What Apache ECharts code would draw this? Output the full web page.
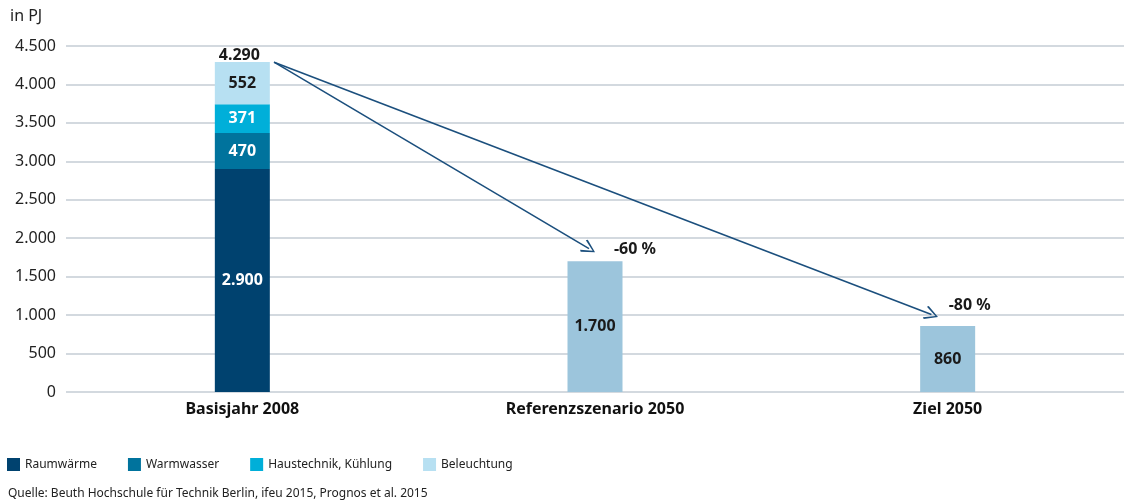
<!DOCTYPE html>
<html>
<head>
<meta charset="utf-8">
<script src="https://cdn.jsdelivr.net/npm/echarts@6/dist/echarts.min.js"></script>
<style>
html, body { margin: 0; padding: 0; background: #fff; }
#chart { width: 1124px; height: 502px; }
</style>
</head>
<body>
<div id="chart"></div>
<script>
// Endenergieverbrauch Gebäude, in PJ
var categories = ['Basisjahr 2008', 'Referenzszenario 2050', 'Ziel 2050'];
var raumwaerme = [2900, '-', '-'];
var warmwasser = [470, '-', '-'];
var haustechnik = [371, '-', '-'];
var beleuchtung = [552, '-', '-'];
var szenarien = ['-', 1700, 860];
var summen = [4290, 1700, 860];
var summenText = ['4.290', '-60 %', '-80 %'];
// Pfeile: Start (Kategorie-Position, Wert) -> Ende
var pfeile = [
    [[0.09, 4290], [0.983, 1865]],
    [[0.09, 4290], [1.954, 1008]]
];

function fmt(v) {
    return String(v).replace(/\B(?=(\d{3})+(?!\d))/g, '.');
}

var chart = echarts.init(document.getElementById('chart'));
var font = 'Noto Sans';

function barLabel(color) {
    return {
        show: true,
        position: 'inside',
        color: color,
        fontFamily: font,
        fontWeight: 'bold',
        fontSize: 16,
        formatter: function (p) { return fmt(p.value); }
    };
}

var option = {
    animation: false,
    textStyle: { fontFamily: font },
    title: [
        {
            text: 'in PJ',
            left: 5, top: 3,
            textStyle: { fontFamily: font, fontSize: 16, fontWeight: 'normal', color: '#222' }
        },
        {
            text: 'Quelle: Beuth Hochschule für Technik Berlin, ifeu 2015, Prognos et al. 2015',
            left: 3, top: 483,
            textStyle: { fontFamily: font, fontSize: 12, fontWeight: 'normal', color: '#222' }
        }
    ],
    legend: {
        data: ['Raumwärme', 'Warmwasser', 'Haustechnik, Kühlung', 'Beleuchtung'],
        left: 2, top: 453,
        icon: 'rect',
        itemWidth: 13, itemHeight: 13,
        itemGap: 31,
        textStyle: { fontFamily: font, fontSize: 12, color: '#222' }
    },
    grid: { left: 66, right: 0, top: 46, bottom: 110 },
    xAxis: [
        {
            type: 'category',
            data: categories,
            axisLine: { show: false },
            axisTick: { show: false },
            axisLabel: { color: '#111', fontWeight: 'bold', fontSize: 16, margin: 9, fontFamily: font }
        },
        {
            type: 'value',
            min: -0.5, max: 2.5,
            show: false
        }
    ],
    yAxis: {
        type: 'value',
        min: 0, max: 4500, interval: 500,
        axisLine: { show: false },
        axisTick: { show: false },
        splitLine: { lineStyle: { color: '#c5ccd4', width: 1.5 } },
        axisLabel: {
            color: '#222', fontSize: 16, margin: 10, fontFamily: font,
            formatter: function (v) { return fmt(v); }
        }
    },
    series: [
        { name: 'Raumwärme', type: 'bar', stack: 'a', barWidth: 55, data: raumwaerme,
          itemStyle: { color: '#00426f' }, label: barLabel('#fff') },
        { name: 'Warmwasser', type: 'bar', stack: 'a', data: warmwasser,
          itemStyle: { color: '#00739d' }, label: barLabel('#fff') },
        { name: 'Haustechnik, Kühlung', type: 'bar', stack: 'a', data: haustechnik,
          itemStyle: { color: '#00afd9' }, label: barLabel('#fff') },
        { name: 'Beleuchtung', type: 'bar', stack: 'a', data: beleuchtung,
          itemStyle: { color: '#b7e0f2' }, label: barLabel('#1a1a1a') },
        { name: 'Szenario', type: 'bar', stack: 'a', data: szenarien,
          itemStyle: { color: '#9cc5dc' }, label: barLabel('#1a1a1a') },
        {
            name: 'Summe', type: 'scatter', symbolSize: 0, silent: true,
            itemStyle: { opacity: 1, color: 'rgba(0,0,0,0)' },
            data: summen.map(function (v, i) {
                var off = [[-3, 6], [40, 1], [22, -7]][i];
                return {
                    value: v,
                    label: {
                        show: true,
                        position: 'top',
                        offset: off,
                        formatter: summenText[i],
                        color: '#1a1a1a', fontWeight: 'bold', fontSize: 16, fontFamily: font
                    }
                };
            })
        },
        {
            name: 'Pfeile', type: 'line', xAxisIndex: 1, data: [], silent: true,
            markLine: {
                silent: true,
                symbol: ['none', 'path://M5,0 L10,9 L9,10 L5,2 L1,10 L0,9 Z'],
                symbolSize: 14,
                label: { show: false },
                lineStyle: { color: '#1b4f7d', width: 1.6, type: 'solid' },
                data: pfeile.map(function (p) {
                    return [{ coord: p[0] }, { coord: p[1] }];
                })
            }
        }
    ]
};

chart.setOption(option);
</script>
</body>
</html>
